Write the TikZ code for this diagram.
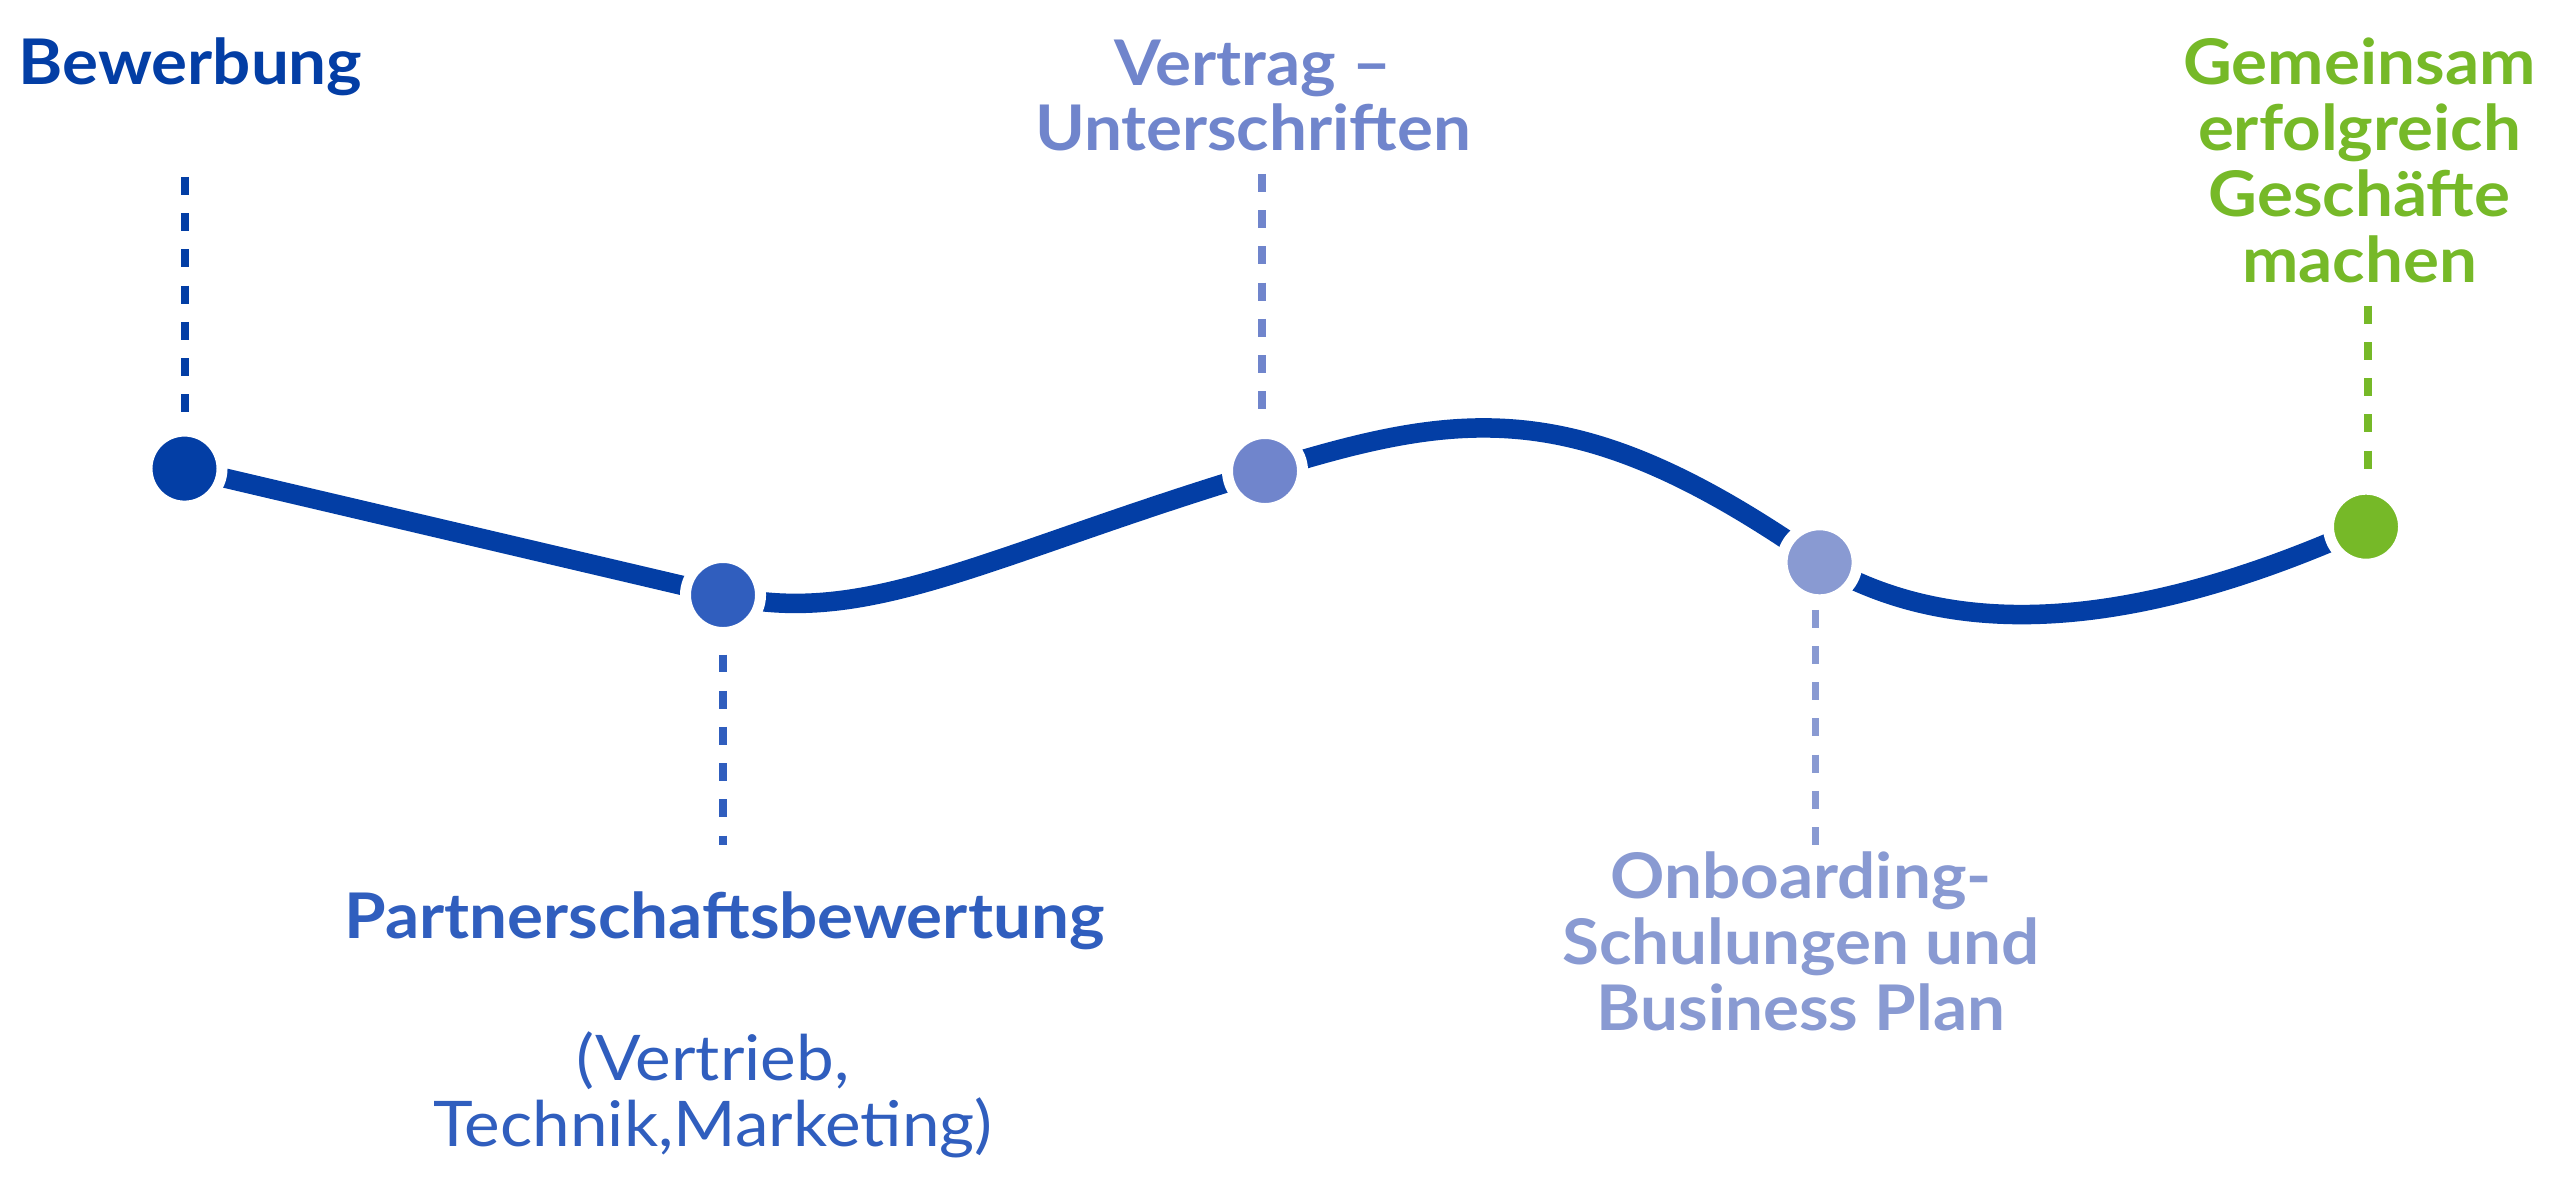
\documentclass[tikz,border=0pt]{standalone}
\usepackage{fontspec}
\setmainfont{Lato}[FakeStretch=1.07]
\usetikzlibrary{backgrounds}
\definecolor{cdark}{RGB}{3,62,165}
\definecolor{cmid}{RGB}{48,94,190}
\definecolor{clav}{RGB}{112,133,204}
\definecolor{clight}{RGB}{137,154,210}
\definecolor{cgreen}{RGB}{118,185,40}
\begin{document}
\begin{tikzpicture}[x=0.01cm,y=-0.01cm,
  stagedot/.style={circle, fill=#1, draw=white, line width=3.13pt, minimum size=0.75cm, inner sep=0pt, outer sep=0pt},
  track/.style={draw=cdark, line width=5.55pt},
  lead/.style={draw=#1, line width=2.1pt, dash pattern=on 5.1pt off 5.2pt},
  lbl/.style={text=#1, font=\fontsize{17.9}{18.72}\selectfont\bfseries, align=center, inner sep=0pt, anchor=base},
  sublbl/.style={text=#1, font=\fontsize{17.9}{18.72}\selectfont, align=center, inner sep=0pt, anchor=base}]
\useasboundingbox (0,0) rectangle (2560,1185);

% stage dots
\node[stagedot=cdark]  (d1) at (184.5,468.6) {};
\node[stagedot=cmid]   (d2) at (723,595) {};
\node[stagedot=clav]   (d3) at (1265,471) {};
\node[stagedot=clight] (d4) at (1819.6,562.3) {};
\node[stagedot=cgreen] (d5) at (2366,526.7) {};

% labels (anchor base = baseline of the last line)
\node[lbl=cdark, anchor=base west] (t1) at (18,85) {Bewerbung};
\node[lbl=cmid] (t2) at (724.5,938.6) {Partnerschaftsbewertung};
\node[sublbl=cmid] (t2b) at (713,1146) {(Vertrieb,\\Technik,Marketing)};
\node[lbl=clav] (t3) at (1253,150.9) {Vertrag –\\Unterschriften};
\node[lbl=clight] (t4) at (1801,1030) {Onboarding-\\Schulungen und\\Business Plan};
\node[lbl=cgreen] (t5) at (2359.5,282) {Gemeinsam\\erfolgreich\\Geschäfte\\machen};

% free ends of the dashed leads
\coordinate (e1) at (185,177);
\coordinate (e2) at (723,845);
\coordinate (e3) at (1262,174);
\coordinate (e4) at (1815.6,845.6);
\coordinate (e5) at (2368,305.8);

\begin{scope}[on background layer]
  \fill[white] (0,0) rectangle (2560,1185);
  \draw[track] (d1.center) -- (d2.center)
    .. controls (868,629) and (987.4,554.3) .. (d3.center)
    .. controls (1465,409) and (1579.6,394.3) .. (d4.center)
    .. controls (1969.6,652.3) and (2166,616.7) .. (d5.center);
  \draw[lead=cdark, shorten >=0.09cm] (e1) -- (e1 |- d1.north);
  \draw[lead=cmid, shorten <=0.22cm] (d2.south -| e2) -- (e2);
  \draw[lead=clav, shorten >=0.16cm] (e3) -- (e3 |- d3.north);
  \draw[lead=clight, shorten <=0.10cm] (d4.south -| e4) -- (e4);
  \draw[lead=cgreen, shorten >=0.18cm] (e5) -- (e5 |- d5.north);
\end{scope}
\end{tikzpicture}
\end{document}
